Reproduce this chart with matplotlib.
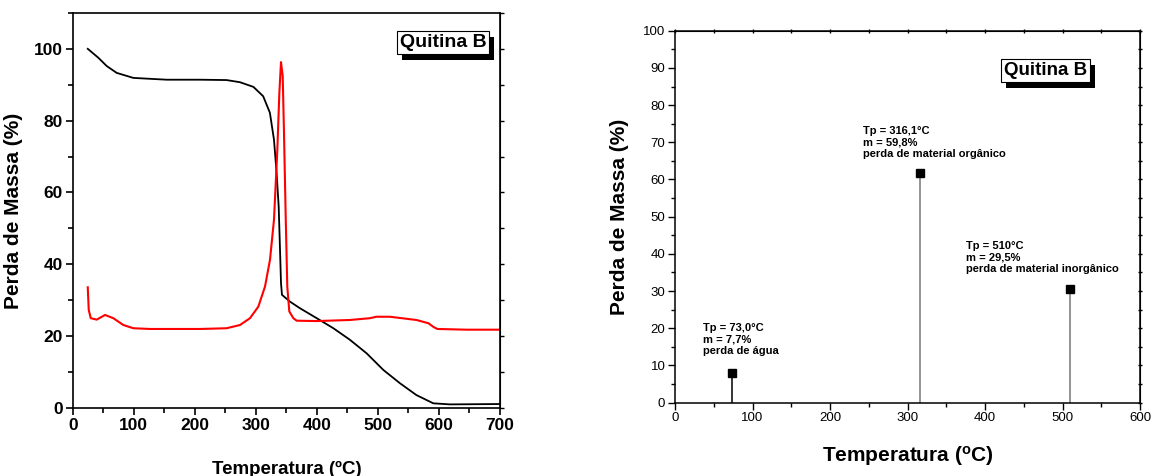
import numpy as np
import matplotlib
matplotlib.use('Agg')
import matplotlib.pyplot as plt
from matplotlib.ticker import MultipleLocator, NullFormatter
from matplotlib.patches import Rectangle

plt.rcParams['font.family'] = ['Liberation Sans', 'DejaVu Sans']
plt.rcParams['mathtext.fontset'] = 'custom'
plt.rcParams['mathtext.rm'] = 'Liberation Sans'
plt.rcParams['mathtext.bf'] = 'Liberation Sans:bold'

# curva TG (preta)
tg_temp = [24.6, 42, 55.7, 72, 99.3, 154, 208.5, 252, 274, 296, 312, 323, 329.7,
           334, 337.4, 339.6, 341.2, 342.8, 356, 372, 399.7, 427, 454, 481.6,
           508.8, 536, 563, 590.7, 618, 700]
tg_mass = [100, 97.5, 95.2, 93.3, 91.9, 91.4, 91.4, 91.3, 90.7, 89.4, 86.8, 82.2,
           74.7, 65.4, 56.1, 44, 34.8, 31.5, 29.6, 27.8, 25, 22.2, 19, 15.2,
           10.6, 6.9, 3.6, 1.3, 1.0, 1.1]

# curva DTG (vermelha)
dtg_temp = [24.6, 26.2, 29.5, 39.3, 52.9, 66.5, 82.9, 99.3, 126.6, 208.9, 252,
            274, 290.4, 304, 315, 323.2, 329.7, 335.2, 338.5, 341.2, 344, 346.1,
            348.9, 351.5, 354.8, 361.4, 366.9, 399.7, 454, 487, 497.4, 519.7,
            563, 582.6, 590.7, 597.3, 645.4, 700]
dtg_val = [33.6, 27.3, 25, 24.6, 25.9, 25, 23.1, 22.2, 22, 22, 22.2, 23.1, 25,
           28.2, 33.8, 41.3, 52.4, 71.9, 87.7, 96.3, 92.4, 76.6, 53.3, 33.8, 26.9,
           25, 24.3, 24.2, 24.5, 25, 25.4, 25.4, 24.5, 23.6, 22.6, 22, 21.8, 21.8]

# picos (grafico da direita)
peak_temp = [73.0, 316.1, 510]
peak_mass = [8.0, 61.7, 30.5]
peak_colors = ['black', '#777777', '#777777']
peak_labels = ['Tp = 73,0°C\nm = 7,7%\nperda de água',
               'Tp = 316,1°C\nm = 59,8%\nperda de material orgânico',
               'Tp = 510°C\nm = 29,5%\nperda de material inorgânico']
label_pos = [(36, 21.5), (242.5, 74.5), (375.5, 43.5)]

fig = plt.figure(figsize=(11.51, 4.76), dpi=100)

# ---- grafico esquerdo ----
ax1 = fig.add_axes([0.0632, 0.1429, 0.3712, 0.830])
ax1.plot(tg_temp, tg_mass, color='black', lw=1.3)
ax1.plot(dtg_temp, dtg_val, color='red', lw=1.5)
ax1.set_xlim(0, 700)
ax1.set_ylim(0, 110)
ax1.xaxis.set_major_locator(MultipleLocator(100))
ax1.xaxis.set_minor_locator(MultipleLocator(50))
ax1.yaxis.set_major_locator(MultipleLocator(20))
ax1.yaxis.set_minor_locator(MultipleLocator(10))
ax1.tick_params(which='both', direction='out', width=1.2)
ax1.tick_params(which='major', length=5, labelsize=12.5, pad=2)
ax1.tick_params(which='minor', length=3.5)
for lab in ax1.get_xticklabels() + ax1.get_yticklabels():
    lab.set_fontweight('bold')
for s in ax1.spines.values():
    s.set_linewidth(1.2)
ax1.set_xlabel('Temperatura (ºC)', fontsize=13.5, fontweight='bold', labelpad=20)
ax1.set_ylabel('Perda de Massa (%)', fontsize=15, fontweight='bold', labelpad=8)
# marcas curtas no lado direito
r1 = ax1.secondary_yaxis('right')
r1.yaxis.set_major_locator(MultipleLocator(10))
r1.yaxis.set_major_formatter(NullFormatter())
r1.tick_params(direction='out', length=3, width=1)

box1 = ax1.text(606.6, 101.8, 'Quitina B', fontsize=14, fontweight='bold',
                ha='center', va='center', zorder=5,
                bbox=dict(boxstyle='square,pad=0.15', fc='white', ec='black', lw=0.8))

# ---- grafico direito ----
ax2 = fig.add_axes([0.5865, 0.154, 0.404, 0.7815])
ax2.vlines(peak_temp, 0, peak_mass, colors=peak_colors, lw=1.1)
ax2.plot(peak_temp, peak_mass, 's', color='black', ms=5.5)
for (tx, ty), lab in zip(label_pos, peak_labels):
    ax2.text(tx, ty, lab, fontsize=8, fontweight='bold', ha='left', va='top',
             linespacing=1.2)
ax2.set_xlim(0, 600)
ax2.set_ylim(0, 100)
ax2.xaxis.set_major_locator(MultipleLocator(100))
ax2.xaxis.set_minor_locator(MultipleLocator(50))
ax2.yaxis.set_major_locator(MultipleLocator(10))
ax2.yaxis.set_minor_locator(MultipleLocator(5))
ax2.tick_params(which='both', direction='out', width=1)
ax2.tick_params(which='major', length=5, labelsize=9.5, pad=2)
ax2.tick_params(which='minor', length=3)
for s in ax2.spines.values():
    s.set_linewidth(1.1)
ax2.set_xlabel(r'Temperatura ($\mathbf{^{o}}$C)', fontsize=15, fontweight='bold',
               labelpad=14)
ax2.set_ylabel('Perda de Massa (%)', fontsize=15, fontweight='bold', labelpad=10)
t2 = ax2.secondary_xaxis('top')
t2.xaxis.set_major_locator(MultipleLocator(50))
t2.xaxis.set_major_formatter(NullFormatter())
t2.tick_params(direction='inout', length=3, width=1)
r2 = ax2.secondary_yaxis('right')
r2.yaxis.set_major_locator(MultipleLocator(5))
r2.yaxis.set_major_formatter(NullFormatter())
r2.tick_params(direction='inout', length=3, width=1)

box2 = ax2.text(478, 89.3, 'Quitina B', fontsize=13.5, fontweight='bold',
                ha='center', va='center', zorder=5,
                bbox=dict(boxstyle='square,pad=0.15', fc='white', ec='black', lw=0.8))

# sombra preta atras das caixas "Quitina B"
fig.canvas.draw()
for t in (box1, box2):
    bb = t.get_bbox_patch().get_window_extent()
    fig.patches.append(Rectangle((bb.x0 + 5, bb.y0 - 6), bb.width, bb.height,
                                 transform=None, fc='black', ec='none', zorder=1))
for ax in (ax1, ax2):
    ax.set_zorder(2)
    ax.patch.set_alpha(0)

fig.savefig('out.png', dpi=100)
